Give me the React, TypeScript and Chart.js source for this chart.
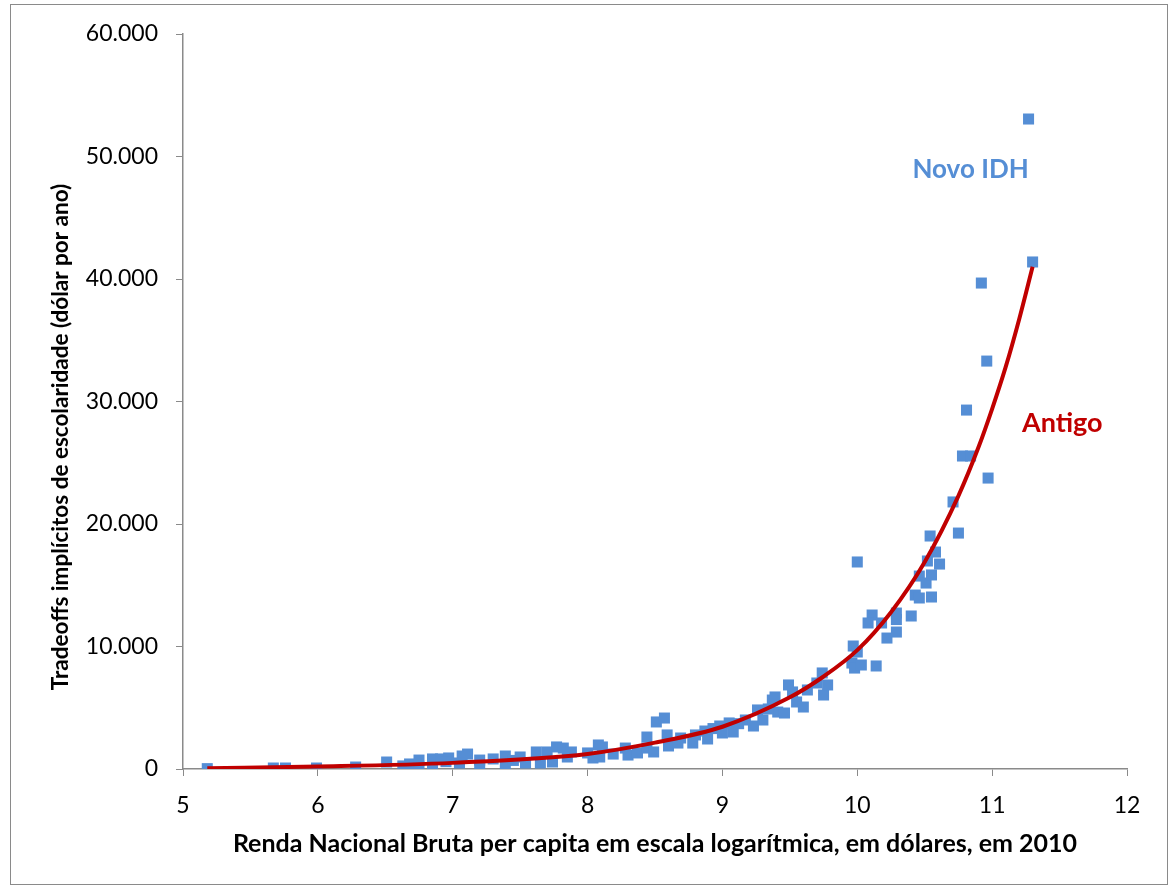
import React, { useEffect, useRef } from "react";
import { Chart, registerables } from "chart.js";

Chart.register(...registerables);

// Novo IDH scatter (log GNI per capita, implied schooling tradeoff in $/year)
const idhX = [
  5.18, 5.67, 5.76, 5.99, 6.28, 6.51, 6.63, 6.68, 6.75, 6.75, 6.85, 6.85, 6.91, 6.97, 7.07, 7.11, 7.05, 7.2, 7.2,
  7.3, 7.39, 7.39, 7.5, 7.54, 7.62, 7.65, 7.7, 7.74, 7.77, 7.82, 7.85, 7.88, 8.0, 8.04, 8.08, 8.11, 8.09, 8.19,
  8.28, 8.3, 8.37, 8.44, 8.44, 8.49, 8.51, 8.57, 8.59, 8.6, 8.69, 8.67, 8.78, 8.8, 8.87, 8.89, 8.98, 9.0, 9.05,
  9.08, 9.17, 9.23, 9.26, 9.3, 9.37, 9.39, 9.41, 9.46, 9.49, 9.52, 9.55, 9.6, 9.63, 9.7, 9.74, 9.75, 9.78, 9.97,
  10.0, 9.96, 9.98, 10.03, 10.0, 10.14, 10.11, 10.08, 10.18, 10.22, 10.29, 10.29, 10.29, 10.4, 10.43, 10.46, 10.46,
  10.51, 10.55, 10.55, 10.52, 10.61, 10.58, 10.54, 10.75, 10.71, 10.97, 10.78, 10.84, 10.81, 10.96, 10.92, 11.3,
  11.27, 8.93, 9.12, 9.34, 7.45, 6.95,
];
const idhY = [
  30, 80, 80, 80, 160, 570, 250, 410, 730, 160, 820, 160, 820, 900, 1060, 1220, 490, 730, 160, 820, 1060, 330, 980,
  490, 1390, 490, 1390, 570, 1800, 1710, 980, 1390, 1310, 900, 1960, 1800, 980, 1220, 1710, 1140, 1310, 2610, 1710,
  1390, 3840, 4160, 2780, 1880, 2530, 2120, 2120, 2780, 3100, 2450, 3510, 2940, 3760, 3020, 4000, 3510, 4820, 4000,
  5630, 5880, 4650, 4570, 6860, 6290, 5470, 5060, 6450, 7020, 7840, 6040, 6860, 10040, 9550, 8650, 8240, 8490,
  16900, 8410, 12570, 11920, 11920, 10690, 12730, 12200, 11180, 12490, 14200, 13960, 15750, 15180, 15840, 14040,
  16980, 16730, 17710, 19020, 19260, 21800, 23750, 25550, 25550, 29300, 33300, 39670, 41390, 53060, 3300, 3700,
  4900, 700, 600,
];

// Antigo (old HDI) trend curve
const trendX = [5.18, 6, 7, 8, 8.5, 9, 9.5, 9.75, 10, 10.25, 10.5, 10.75, 10.9, 11, 11.1, 11.2, 11.3];
const trendY = [70, 200, 500, 1230, 2150, 3450, 5850, 7550, 9700, 12800, 16900, 22300, 26300, 29400, 32800, 36700, 41000];

const xTickValues = [5, 6, 7, 8, 9, 10, 11, 12];
const yTickValues = [0, 10000, 20000, 30000, 40000, 50000, 60000];

const xTitle = "Renda Nacional Bruta per capita em escala logarítmica, em dólares, em 2010";
const yTitle = "Tradeoffs implícitos de escolaridade (dólar por ano)";
const novoLabel = "Novo IDH";
const novoPos = [10.84, 48900];
const antigoLabel = "Antigo";
const antigoPos = [11.52, 28200];

const fmt = (v: number) => String(Math.round(v)).replace(/\B(?=(\d{3})+(?!\d))/g, ".");

const FONT = "Lato, 'Open Sans', sans-serif";

const decor = {
  id: "decor",
  afterDraw(chart: any) {
    const ctx = chart.ctx;
    const xs = chart.scales.x;
    const ys = chart.scales.y;
    const area = chart.chartArea;
    ctx.save();
    ctx.strokeStyle = "#8a8a8a";
    ctx.lineWidth = 1;
    ctx.strokeRect(10.5, 4.5, 1157, 880);

    ctx.fillStyle = "#000";
    ctx.textAlign = "center";
    ctx.textBaseline = "middle";
    ctx.font = `bold 25px ${FONT}`;
    ctx.fillText(xTitle, (area.left + area.right) / 2, 844);
    ctx.font = `bold 22.5px ${FONT}`;
    ctx.save();
    ctx.translate(61, 437);
    ctx.rotate(-Math.PI / 2);
    ctx.fillText(yTitle, 0, 0);
    ctx.restore();

    ctx.font = `bold 26px ${FONT}`;
    ctx.fillStyle = "#558ED5";
    ctx.fillText(novoLabel, xs.getPixelForValue(novoPos[0]), ys.getPixelForValue(novoPos[1]));
    ctx.font = `bold 27px ${FONT}`;
    ctx.fillStyle = "#C00000";
    ctx.fillText(antigoLabel, xs.getPixelForValue(antigoPos[0]), ys.getPixelForValue(antigoPos[1]));
    ctx.restore();
  },
};

export default function App() {
  const ref = useRef<HTMLCanvasElement>(null);
  useEffect(() => {
    document.body.style.margin = "0";
    const chart = new Chart(ref.current!, {
      type: "scatter",
      data: {
        datasets: [
          {
            type: "line",
            label: "Antigo",
            data: trendX.map((x, i) => ({ x, y: trendY[i] })),
            borderColor: "#C00000",
            borderWidth: 4,
            pointRadius: 0,
            fill: false,
            cubicInterpolationMode: "monotone",
            order: 0,
          } as any,
          {
            label: "Novo IDH",
            data: idhX.map((x, i) => ({ x, y: idhY[i] })),
            backgroundColor: "#558ED5",
            borderWidth: 0,
            pointStyle: "rect",
            pointRadius: 7.8,
            pointHoverRadius: 7.8,
            order: 1,
          },
        ],
      },
      options: {
        responsive: false,
        animation: false,
        layout: { padding: { top: 34, right: 44, left: 0, bottom: 0 } },
        plugins: { legend: { display: false }, tooltip: { enabled: false } },
        scales: {
          x: {
            type: "linear",
            min: 5,
            max: 12,
            afterFit: (s: any) => {
              s.height = 119;
            },
            afterBuildTicks: (s: any) => {
              s.ticks = xTickValues.map((v) => ({ value: v }));
            },
            grid: { drawOnChartArea: false, drawTicks: true, tickLength: 7, color: "#8a8a8a" },
            border: { display: true, color: "#8a8a8a", width: 1.5 },
            ticks: { color: "#000", font: { family: FONT, size: 23 }, padding: 16 },
          },
          y: {
            type: "linear",
            min: 0,
            max: 60000,
            afterFit: (s: any) => {
              s.width = 183;
            },
            afterBuildTicks: (s: any) => {
              s.ticks = yTickValues.map((v) => ({ value: v }));
            },
            grid: { drawOnChartArea: false, drawTicks: true, tickLength: 7, color: "#8a8a8a" },
            border: { display: true, color: "#8a8a8a", width: 1.5 },
            ticks: {
              color: "#000",
              font: { family: FONT, size: 23 },
              padding: 18,
              callback: (v: any) => fmt(Number(v)),
            },
          },
        },
      },
      plugins: [decor],
    });
    return () => chart.destroy();
  }, []);
  return (
    <div style={{ position: "relative", width: 1171, height: 888, background: "#fff" }}>
      <canvas ref={ref} width={1171} height={888} />
    </div>
  );
}
